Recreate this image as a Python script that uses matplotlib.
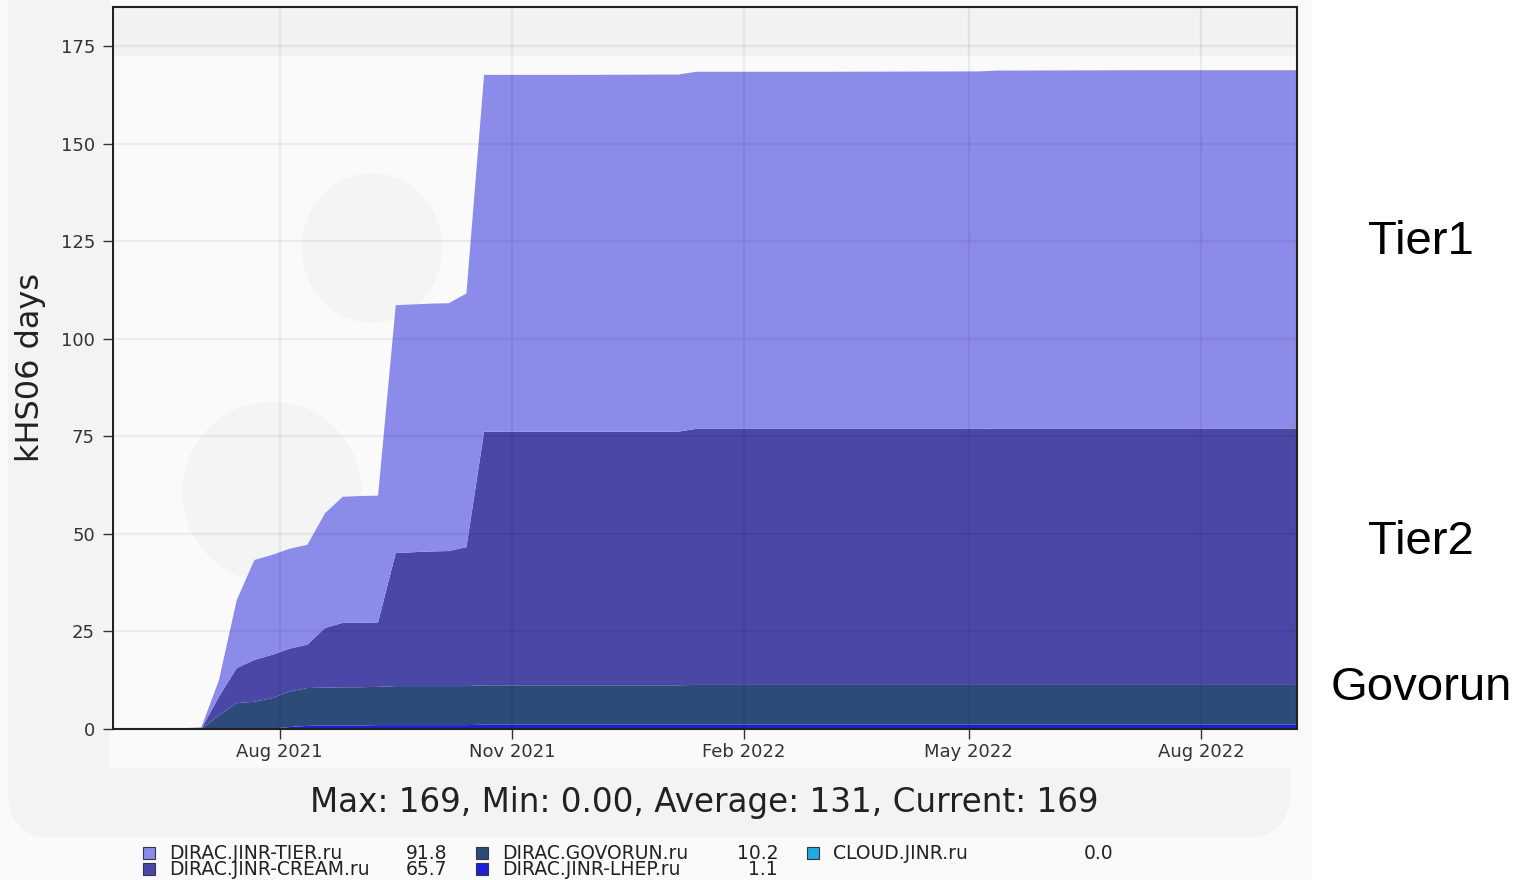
import matplotlib
matplotlib.use("Agg")
import matplotlib.pyplot as plt
import matplotlib.dates as mdates
from matplotlib.patches import Rectangle, Ellipse, FancyBboxPatch
import pandas as pd

# ---------------- data ----------------
dates = ["2021-05-27", "2021-06-10", "2021-06-24", "2021-07-01", "2021-07-08",
         "2021-07-15", "2021-07-22", "2021-07-29", "2021-08-05", "2021-08-12",
         "2021-08-19", "2021-08-26", "2021-09-02", "2021-09-09", "2021-09-16",
         "2021-09-23", "2021-09-30", "2021-10-07", "2021-10-14", "2021-10-21",
         "2021-11-25", "2022-01-06", "2022-01-13", "2022-03-03", "2022-05-05",
         "2022-05-12", "2022-07-07", "2022-09-08"]

cloud = [0.0] * 28
lhep = [0.0, 0.0, 0.0, 0.0, 0.0, 0.0, 0.0, 0.1, 0.5, 0.8,
        0.9, 0.9, 0.9, 1.0, 1.0, 1.0, 1.0, 1.0, 1.0, 1.1,
        1.1, 1.1, 1.1, 1.1, 1.1, 1.1, 1.1, 1.1]
govorun = [0.0, 0.0, 0.0, 0.0, 3.5, 6.6, 7.0, 7.8, 9.1, 9.7,
           9.7, 9.8, 9.8, 9.8, 10.0, 10.0, 10.0, 10.0, 10.0, 10.1,
           10.1, 10.1, 10.2, 10.2, 10.2, 10.2, 10.2, 10.2]
cream = [0.0, 0.0, 0.02, 0.05, 4.8, 9.0, 10.7, 11.1, 11.0, 11.1,
         15.3, 16.5, 16.5, 16.5, 34.1, 34.3, 34.5, 34.6, 35.6, 65.0,
         65.0, 65.0, 65.6, 65.6, 65.6, 65.7, 65.7, 65.7]
tier = [0.0, 0.05, 0.2, 0.35, 4.3, 17.4, 25.6, 25.6, 25.6, 25.6,
        29.4, 32.3, 32.5, 32.5, 63.5, 63.5, 63.5, 63.5, 65.0, 91.4,
        91.4, 91.5, 91.5, 91.5, 91.6, 91.7, 91.8, 91.8]

names = ["CLOUD.JINR.ru", "DIRAC.JINR-LHEP.ru", "DIRAC.GOVORUN.ru",
         "DIRAC.JINR-CREAM.ru", "DIRAC.JINR-TIER.ru"]
colors = ["#22aadd", "#1f1fd8", "#2d4b78", "#4b47a6", "#8b8be9"]
series = [cloud, lhep, govorun, cream, tier]

yticks = [0, 25, 50, 75, 100, 125, 150, 175]
title = "Max: 169, Min: 0.00, Average: 131, Current: 169"
side_labels = [("Tier1", 242), ("Tier2", 542), ("Govorun", 688)]

# ---------------- figure ----------------
W, H = 1524, 880
fig = plt.figure(figsize=(W / 100, H / 100), dpi=100)
fig.patch.set_facecolor("white")


def fx(x):
    return x / W


def fy(y):
    return 1 - y / H


# background panels (slide look)
fig.patches.append(Rectangle((0, 0), fx(1312), 1, transform=fig.transFigure,
                             facecolor="#fafafa", edgecolor="none", zorder=-10))
fig.patches.append(FancyBboxPatch((fx(8), fy(838)), fx(1290) - fx(8), 1.2,
                                  boxstyle="round,pad=0,rounding_size=0.03",
                                  transform=fig.transFigure, mutation_aspect=W / H,
                                  facecolor="#f3f3f3", edgecolor="none", zorder=-9))
fig.patches.append(Rectangle((fx(110), fy(768)), fx(1312) - fx(110), 1,
                             transform=fig.transFigure,
                             facecolor="#fafafa", edgecolor="none", zorder=-8))
# faint watermark blobs
fig.patches.append(Ellipse((fx(272), fy(492)), 180 / W, 180 / H, transform=fig.transFigure,
                           facecolor="#f4f4f4", edgecolor="none", zorder=-7))
fig.patches.append(Ellipse((fx(372), fy(248)), 140 / W, 150 / H, transform=fig.transFigure,
                           facecolor="#f4f4f4", edgecolor="none", zorder=-7))

ax = fig.add_axes([fx(113), fy(729), (1297 - 113) / W, (729 - 7) / H])
ax.set_facecolor("none")

x = pd.to_datetime(dates)
ax.axhspan(172.5, 185, color="#f2f2f2", zorder=0, lw=0)
ax.stackplot(x, *series, colors=colors, linewidth=0, zorder=1)

ax.set_xlim(x[0], x[-1])
ax.set_ylim(0, 185)
ax.set_yticks(yticks)
ax.xaxis.set_major_locator(mdates.MonthLocator(bymonth=[2, 5, 8, 11]))
ax.xaxis.set_major_formatter(mdates.DateFormatter("%b %Y"))

ax.grid(True, color="black", alpha=0.06, linewidth=1.6)
ax.set_axisbelow(False)
for sp in ax.spines.values():
    sp.set_color("#222222")
    sp.set_linewidth(1.5)
    sp.set_zorder(5)
ax.tick_params(axis="both", labelsize=13, labelcolor="#333333", color="#333333",
               length=7, width=1)
ax.tick_params(axis="y", pad=6)
ax.tick_params(axis="x", pad=3)

fig.text(fx(31), fy(367), "kHS06 days", rotation=90, ha="center", va="center",
         fontsize=23, color="#222222")
fig.text(fx(704), fy(802), title, ha="center", va="center", fontsize=23.5, color="#222222")

# legend (manual, two rows)
legend_items = [
    (4, 149, 853, 447),   # TIER
    (3, 149, 869, 447),   # CREAM
    (2, 482, 853, 778),   # GOVORUN
    (1, 482, 869, 778),   # LHEP
    (0, 813, 853, 1113),  # CLOUD
]
for idx, lx, ly, vx in legend_items:
    fig.patches.append(Rectangle((fx(lx - 6), fy(ly + 6)), 12 / W, 12 / H,
                                 transform=fig.transFigure, facecolor=colors[idx],
                                 edgecolor="#333355", linewidth=0.8, zorder=5))
    fig.text(fx(lx + 20), fy(ly), names[idx], ha="left", va="center",
             fontsize=13.5, color="#222222")
    fig.text(fx(vx), fy(ly), f"{series[idx][-1]:.1f}", ha="right", va="center",
             fontsize=13.5, color="#222222")

for txt, yy in side_labels:
    fig.text(fx(1421), fy(yy), txt, ha="center", va="center", fontsize=34,
             family=["Liberation Sans", "DejaVu Sans"], color="black")

fig.savefig("out.png", dpi=100, facecolor=fig.get_facecolor())
